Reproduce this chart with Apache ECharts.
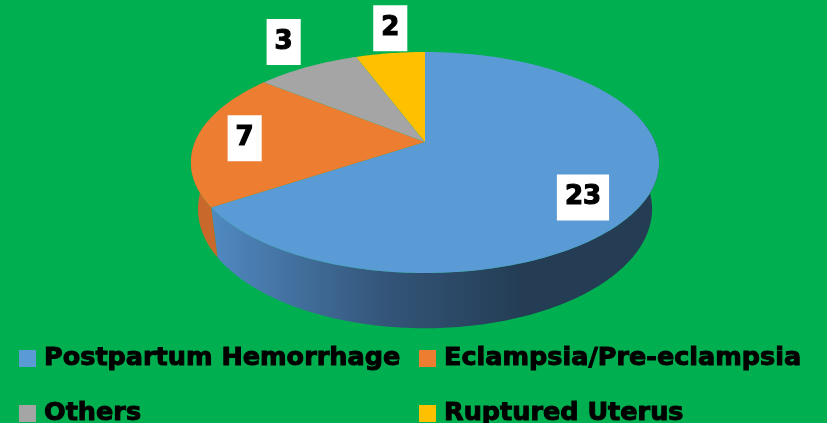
<!DOCTYPE html>
<html>
<head>
<meta charset="utf-8">
<script src="https://cdn.jsdelivr.net/npm/echarts@6/dist/echarts.min.js"></script>
<style>
  html, body { margin: 0; padding: 0; background: #00b050; }
  #chart { width: 827px; height: 423px; }
</style>
</head>
<body>
<div id="chart"></div>
<script>
// data
const categories = ['Postpartum Hemorrhage', 'Eclampsia/Pre-eclampsia', 'Others', 'Ruptured Uterus'];
const counts = [23, 7, 3, 2];
const colors = ['#5b9bd5', '#ed7d31', '#a5a5a5', '#ffc000'];
const labelRadius = [0.73, 0.79, 1.24, 1.0];

// 3d pie geometry (perspective ellipse)
const CX = 425, CY = 142, RX = 230, RY = 106.7, K = 0.1855;
const DEPTH = 45, SHRINK = 0.97;
const SIL = 180 - Math.acos(K) * 180 / Math.PI; // silhouette angle offset from bottom

const total = counts.reduce((a, b) => a + b, 0);
const starts = [];
let acc = 0;
counts.forEach(v => { starts.push(acc / total * 360); acc += v; });

function rim(deg, rho) {
  rho = rho == null ? 1 : rho;
  let t = deg * Math.PI / 180;
  let den = 1 + K * rho * Math.cos(t);
  return [CX + RX * rho * Math.sin(t) / den, CY - RY * rho * Math.cos(t) / den];
}
function base(deg) {
  let p = rim(deg);
  let t = deg * Math.PI / 180;
  return [CX + SHRINK * (p[0] - CX), p[1] + DEPTH / (1 + K * Math.cos(t))];
}
function arcPoints(a, b, fn) {
  let pts = [];
  let n = Math.max(2, Math.ceil(Math.abs(b - a)));
  for (let i = 0; i <= n; i++) pts.push(fn(a + (b - a) * i / n));
  return pts;
}

function wallFill(idx) {
  if (idx === 0) {
    return new echarts.graphic.LinearGradient(212, 0, 520, 0, [
      { offset: 0, color: '#5089c1' },
      { offset: 0.55, color: '#34567a' },
      { offset: 1, color: '#243d55' }
    ], true);
  }
  return '#c8692b';
}

function makeRender(idx) {
  return function (params, api) {
    let a = starts[idx];
    let b = a + api.value(0) / total * 360;
    let children = [];
    // front wall
    let wa = Math.max(a, 180 - SIL), wb = Math.min(b, 180 + SIL);
    if (wb > wa) {
      let top = arcPoints(wa, wb, d => rim(d));
      let bot = arcPoints(wb, wa, d => base(d));
      children.push({ type: 'polygon', shape: { points: top.concat(bot) }, style: { fill: wallFill(idx) } });
    }
    // top face
    let face = [[CX, CY]].concat(arcPoints(a, b, d => rim(d)));
    children.push({ type: 'polygon', shape: { points: face }, style: { fill: colors[idx] } });
    // label
    let mid = (a + b) / 2;
    let rho = labelRadius[idx];
    let p = rim(mid, rho);
    let y = p[1];
    if (rho >= 1) y = rim(mid, 1)[1] - 25;
    else y += 34 * Math.max(0, -Math.cos(mid * Math.PI / 180));
    children.push({
      type: 'text', z2: 10,
      style: {
        text: String(api.value(0)), x: p[0], y: y, align: 'center', verticalAlign: 'middle',
        fontFamily: 'DejaVu Sans', fontWeight: 'bold', fontSize: 26, lineHeight: 26,
        fill: '#000', stroke: '#000', lineWidth: 1.2,
        backgroundColor: '#fff', padding: [10, 8, 10, 8]
      }
    });
    return { type: 'group', children: children };
  };
}

const legendText = {
  color: '#000', fontFamily: 'DejaVu Sans', fontWeight: 'bold', fontSize: 25.5, lineHeight: 20,
  textBorderColor: '#000', textBorderWidth: 1, padding: [0, 0, 0, 3]
};

let myChart = echarts.init(document.getElementById('chart'));
let option = {
  backgroundColor: '#00b050',
  animation: false,
  legend: [
    { left: 19, top: 345, width: 390, height: 120, orient: 'vertical', icon: 'rect',
      itemWidth: 17, itemHeight: 17, itemGap: 28,
      padding: 0, data: [categories[0], categories[2]], textStyle: legendText },
    { left: 419, top: 345, width: 400, height: 120, orient: 'vertical', icon: 'rect',
      itemWidth: 17, itemHeight: 17, itemGap: 28,
      padding: 0, data: [categories[1], categories[3]], textStyle: legendText }
  ],
  series: categories.map((name, i) => ({
    type: 'custom',
    name: name,
    coordinateSystem: 'none',
    itemStyle: { color: colors[i] },
    renderItem: makeRender(i),
    data: [[counts[i]]]
  }))
};
myChart.setOption(option);
</script>
</body>
</html>
